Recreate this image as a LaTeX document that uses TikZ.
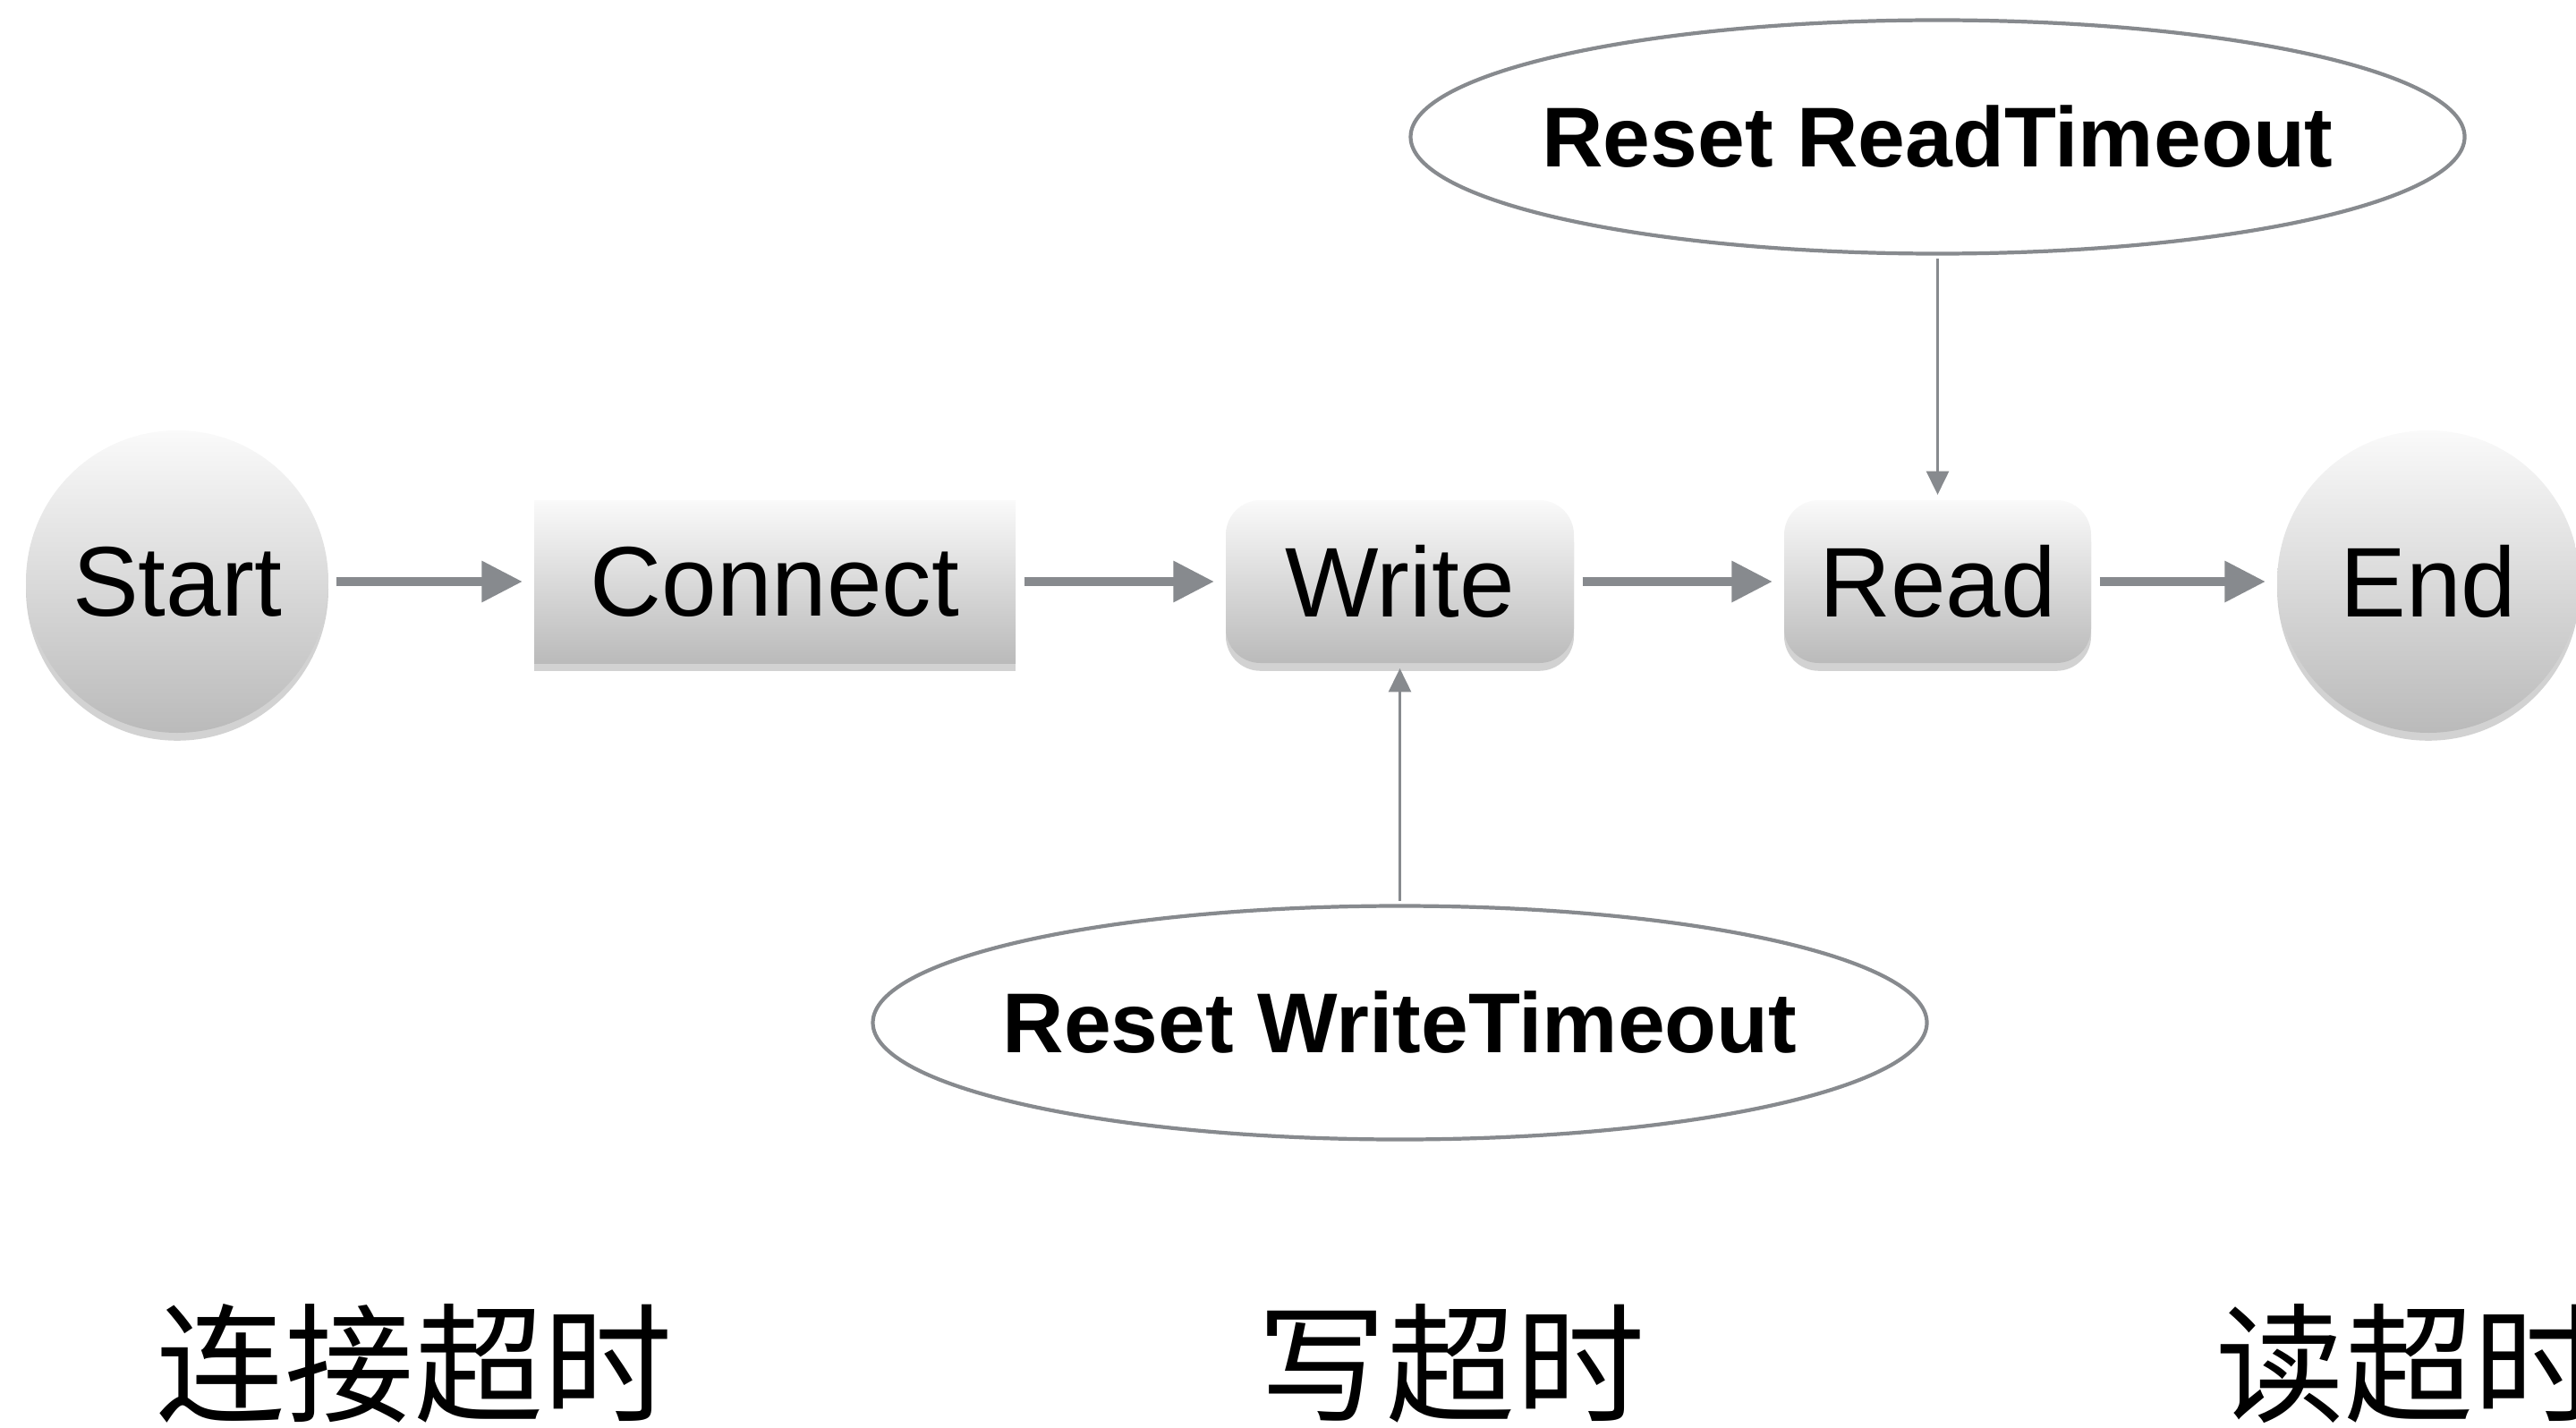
\documentclass[tikz,border=0pt]{standalone}
\usepackage{fontspec}
\setmainfont{Liberation Sans}
\newfontfamily\cjk{Noto Sans CJK SC}
\usepackage{tikz}
\usetikzlibrary{positioning, arrows.meta, shadows, shapes.geometric}

\definecolor{linegray}{RGB}{135,138,142}

\begin{document}
\begin{tikzpicture}[on grid, auto,
    shade box/.style={top color=black!2, bottom color=black!27, draw=none,
      drop shadow={shadow xshift=0pt, shadow yshift=-2.5pt, opacity=.25, fill=black!70},
      inner sep=0pt, font=\fontsize{31.5}{38}\selectfont},
    terminal/.style={shade box, circle, minimum size=3.38cm},
    stepbox/.style={shade box, rectangle, minimum height=1.82cm},
    roundbox/.style={stepbox, rounded corners=11pt},
    reset/.style={ellipse, draw=linegray, line width=1.2pt, fill=white,
      minimum width=11.78cm, minimum height=2.61cm, inner xsep=-0.5cm, inner ysep=0pt,
      font=\bfseries\fontsize{27}{32}\selectfont},
    flow/.style={-{Triangle[length=13pt, width=12.5pt]}, draw=linegray,
      line width=2.8pt, shorten >=3.5pt, shorten <=2.5pt},
    hook/.style={-{Triangle[length=7.5pt, width=7pt]}, draw=linegray,
      line width=1.1pt, shorten >=1.5pt, shorten <=1pt},
    cnlabel/.style={font=\cjk\fontsize{41}{48}\selectfont, inner sep=0pt}]
  \useasboundingbox (0,0) rectangle (28.79,15.95);

  \node[terminal] (s) at (1.98,9.45) {Start};
  \node[stepbox, minimum width=5.38cm] (c) [right=6.68cm of s] {Connect};
  \node[roundbox, minimum width=3.89cm] (w) [right=6.985cm of c] {Write};
  \node[roundbox, minimum width=3.43cm] (r) [right=6.01cm of w] {Read};
  \node[terminal] (e) [right=5.485cm of r] {End};

  \node[reset] (rt) [above=4.97cm of r] {Reset ReadTimeout};
  \node[reset] (wt) [below=4.93cm of w] {Reset WriteTimeout};

  \node[cnlabel] (lc) at (4.63,0.71) {连接超时};
  \node[cnlabel] (lw) at (16.22,0.71) {写超时};
  \node[cnlabel, anchor=west] (lr) at (24.76,0.71) {读超时};

  \path
  (s) edge[flow] (c)
  (c) edge[flow] (w)
  (w) edge[flow] (r)
  (r) edge[flow] (e)
  (rt) edge[hook] (r)
  (wt) edge[hook] (w);
\end{tikzpicture}
\end{document}
